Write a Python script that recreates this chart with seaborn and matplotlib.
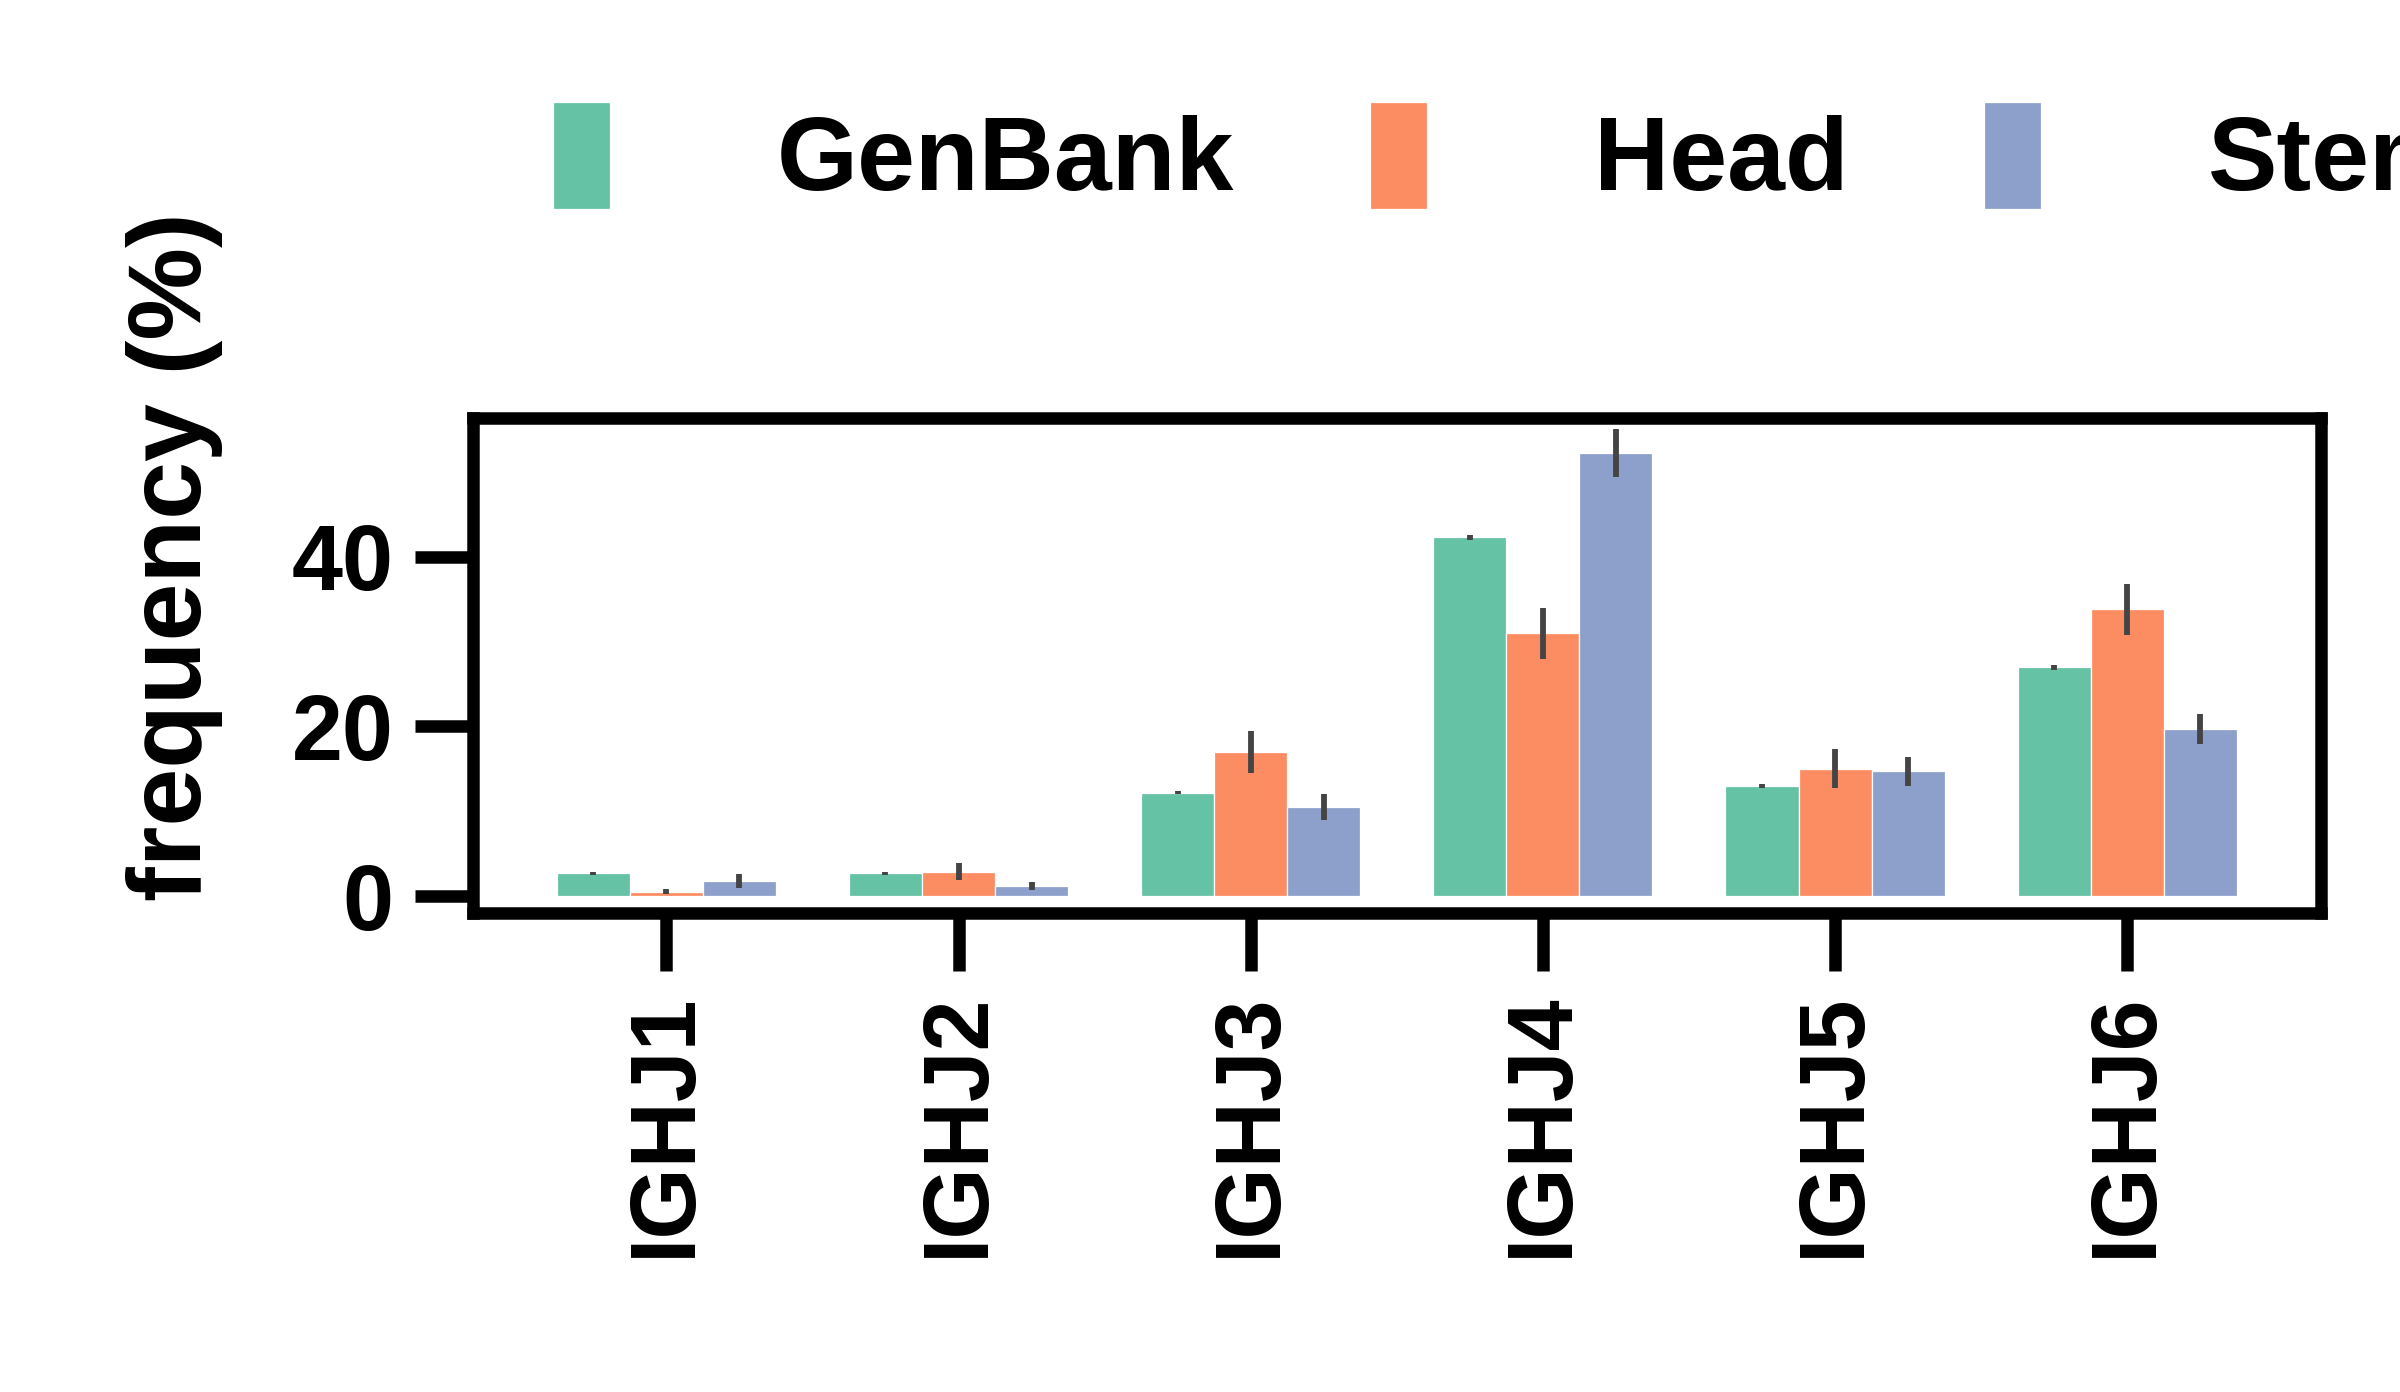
import matplotlib
matplotlib.use("Agg")
import matplotlib.pyplot as plt
import seaborn as sns
import pandas as pd
import numpy as np

genes = ["IGHJ1", "IGHJ2", "IGHJ3", "IGHJ4", "IGHJ5", "IGHJ6"]
sources = ["GenBank", "Head", "Stem"]
genbank = [2.7, 2.7, 12.2, 42.3, 13.0, 27.0]
head = [0.5, 2.9, 17.0, 31.0, 15.0, 33.8]
stem = [1.8, 1.2, 10.5, 52.2, 14.7, 19.7]
genbank_err = [0.2, 0.2, 0.2, 0.3, 0.2, 0.3]
head_err = [0.3, 1.0, 2.5, 3.0, 2.3, 3.0]
stem_err = [0.8, 0.5, 1.5, 2.8, 1.7, 1.8]

rows = []
for s, vals, errs in zip(sources, [genbank, head, stem], [genbank_err, head_err, stem_err]):
    for g, v, e in zip(genes, vals, errs):
        rows.append({"gene": g, "source": s, "freq": v, "err": e})
df = pd.DataFrame(rows)

sns.set_theme(style="white")
plt.rcParams['font.family'] = ['Liberation Sans', 'DejaVu Sans']
plt.rcParams['font.weight'] = 'bold'
plt.rcParams['text.color'] = 'black'
plt.rcParams['xtick.color'] = 'black'
plt.rcParams['ytick.color'] = 'black'
plt.rcParams['axes.labelcolor'] = 'black'

fig = plt.figure(figsize=(8, 4.64), dpi=300)
ax = fig.add_axes([0.197, 0.344, 0.77, 0.356])
palette = sns.color_palette("Set2", 3)
sns.barplot(data=df, x="gene", y="freq", hue="source", palette=palette, saturation=1,
            width=0.75, errorbar=None, ax=ax, edgecolor="white", linewidth=0.3)

for i, s in enumerate(sources):
    cont = ax.containers[i]
    sub = df[df.source == s]
    xs = [p.get_x() + p.get_width() / 2 for p in cont.patches]
    ax.errorbar(xs, sub["freq"].values, yerr=sub["err"].values, fmt="none",
                ecolor="#444444", elinewidth=1.4, capsize=0)

ax.set_ylim(-2, 56.4)
ax.set_yticks([0, 20, 40])
ax.set_xlabel("")
ax.set_ylabel("frequency (%)", fontsize=25, fontweight="bold")
ax.yaxis.set_label_coords(-0.135, 0.72)
for sp in ax.spines.values():
    sp.set_visible(True)
    sp.set_linewidth(3)
    sp.set_color("black")
ax.tick_params(axis="both", direction="out", length=14, width=3, color="black",
               labelsize=22, bottom=True, left=True, pad=5)
plt.setp(ax.get_xticklabels(), rotation=90, fontweight="bold")
plt.setp(ax.get_yticklabels(), fontweight="bold")

ax.legend(loc="lower center", bbox_to_anchor=(0.56, 1.33), ncol=3, frameon=False,
          prop={"size": 25, "weight": "bold"}, handlelength=0.55, handleheight=1.2,
          columnspacing=1.3, handletextpad=1.6, borderaxespad=0)

fig.savefig("out.png", dpi=300)
